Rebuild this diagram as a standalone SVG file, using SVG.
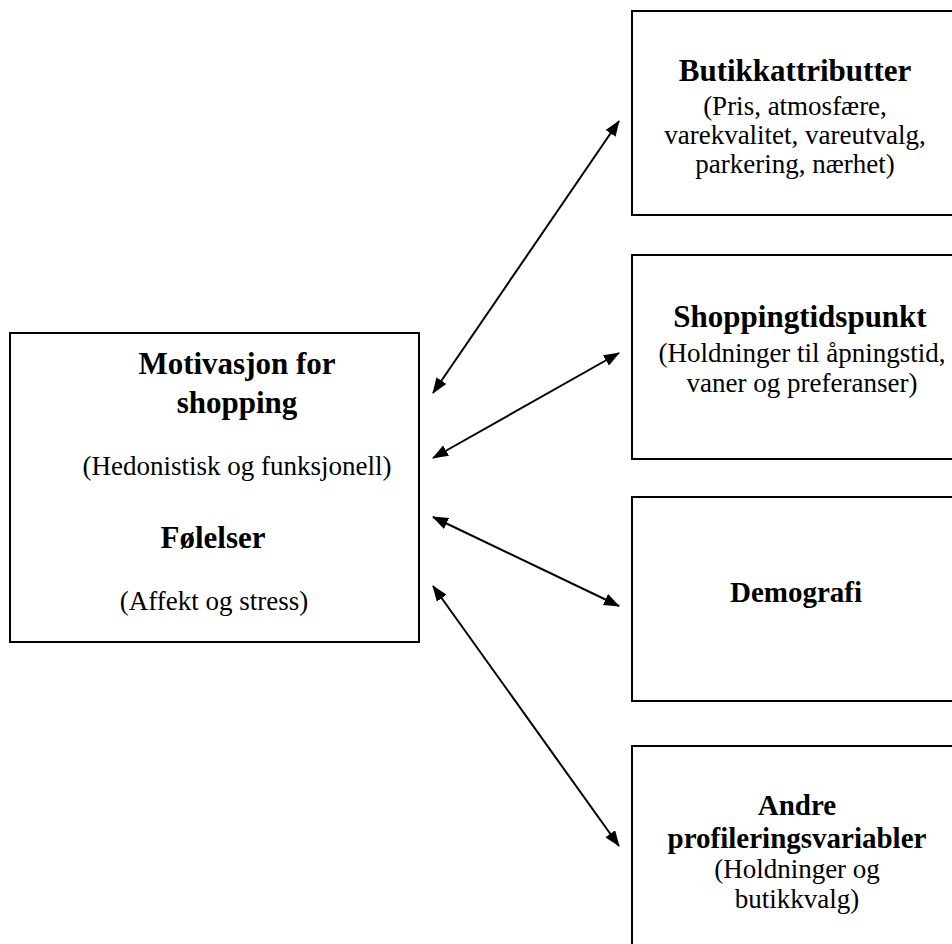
<svg xmlns="http://www.w3.org/2000/svg" width="952" height="944" viewBox="0 0 952 944">
<defs>
<style>
.box{fill:#fff;stroke:#000;stroke-width:2}
.t{font-family:"Liberation Serif","Times New Roman",serif;font-size:27px;fill:#000;text-anchor:middle}
.b{font-weight:bold;font-size:31px}
.b2{font-weight:bold;font-size:29px}
.c{stroke:#000;stroke-width:2;fill:none;marker-start:url(#ah);marker-end:url(#ah)}
</style>
<marker id="ah" viewBox="0 0 16 12" refX="15" refY="6" markerWidth="16" markerHeight="12" markerUnits="userSpaceOnUse" orient="auto-start-reverse">
<path d="M0,0 L16,6 L0,12 Z" fill="#000"/>
</marker>
</defs>
<rect width="952" height="944" fill="#fff"/>
<g id="connectors">
<line class="c" x1="433" y1="393" x2="619" y2="121"/>
<line class="c" x1="433" y1="458" x2="619" y2="353"/>
<line class="c" x1="433" y1="517" x2="619" y2="606"/>
<line class="c" x1="433" y1="586" x2="619" y2="846"/>
</g>
<g id="motivasjon">
<rect class="box" x="10" y="333" width="409" height="309"/>
<text class="t b" x="237" y="374">Motivasjon for</text>
<text class="t b" x="237" y="413">shopping</text>
<text class="t" x="237" y="475">(Hedonistisk og funksjonell)</text>
<text class="t b" x="213" y="548">Følelser</text>
<text class="t" x="214" y="610">(Affekt og stress)</text>
</g>
<g id="butikkattributter">
<rect class="box" x="632" y="11" width="330" height="204"/>
<text class="t b" x="795" y="81">Butikkattributter</text>
<text class="t" x="795" y="115">(Pris, atmosfære,</text>
<text class="t" x="795" y="144">varekvalitet, vareutvalg,</text>
<text class="t" x="795" y="173">parkering, nærhet)</text>
</g>
<g id="shoppingtidspunkt">
<rect class="box" x="632" y="255" width="330" height="204"/>
<text class="t b" x="800" y="327">Shoppingtidspunkt</text>
<text class="t" x="802" y="362">(Holdninger til åpningstid,</text>
<text class="t" x="802" y="392">vaner og preferanser)</text>
</g>
<g id="demografi">
<rect class="box" x="632" y="497" width="330" height="204"/>
<text class="t b2" x="796" y="602">Demografi</text>
</g>
<g id="andre">
<rect class="box" x="632" y="746" width="330" height="210"/>
<text class="t b2" x="797" y="815">Andre</text>
<text class="t b2" x="797" y="848">profileringsvariabler</text>
<text class="t" x="797" y="878">(Holdninger og</text>
<text class="t" x="797" y="908">butikkvalg)</text>
</g>
</svg>
